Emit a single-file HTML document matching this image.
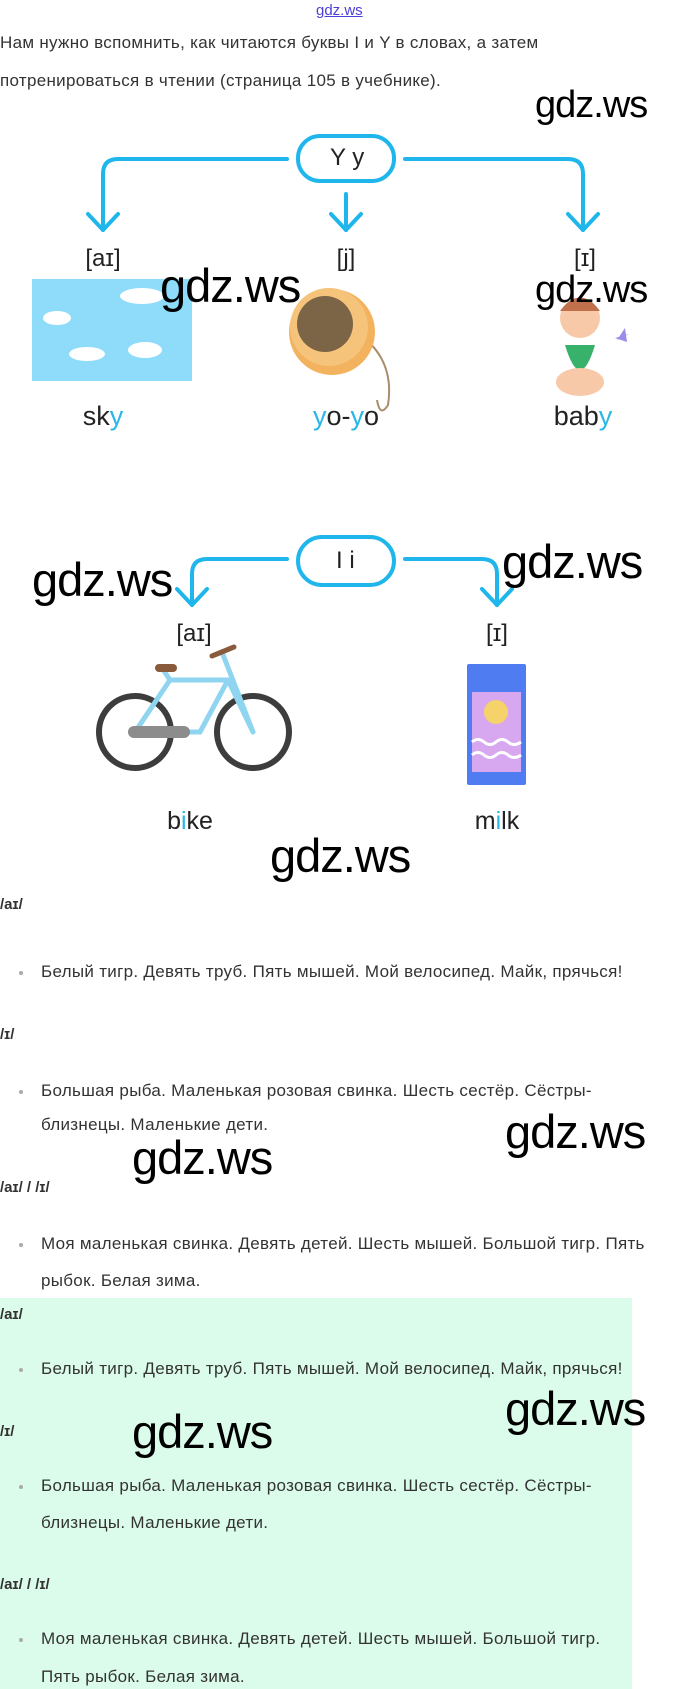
<!DOCTYPE html>
<html><head><meta charset="utf-8"><style>
body{margin:0;width:680px;height:1689px;position:relative;background:#fff;font-family:"Liberation Sans",sans-serif;overflow:hidden}
.a{position:absolute;white-space:nowrap}
.t{font-size:17px;color:#333;letter-spacing:0.3px}
.h{font-size:15px;font-weight:bold;color:#333}
.b{position:absolute;left:19px;width:4px;height:4px;background:#aaa;border-radius:50%}
.w{font-size:47px;color:#000;letter-spacing:-1px;line-height:50px}
.lbl{font-size:24px;color:#222;transform:translateX(-50%);line-height:28px}
.wd{font-size:27px;color:#222;transform:translateX(-50%);line-height:32px}
.c{color:#28b7e6}
</style></head><body>
<div class="a" style="left:316px;top:2px;font-size:15px;color:#4b3fd8;text-decoration:underline">gdz.ws</div>
<div class="a t" style="left:0;top:33px">Нам нужно вспомнить, как читаются буквы I и Y в словах, а затем</div>
<div class="a t" style="left:0;top:71px">потренироваться в чтении (страница 105 в учебнике).</div>

<svg class="a" style="left:0;top:0" width="680" height="900" viewBox="0 0 680 900">
<g fill="none" stroke="#1fb6ec" stroke-width="4" stroke-linecap="round" stroke-linejoin="round">
<rect x="298" y="136" width="96" height="45" rx="22"/>
<path d="M287 159 H118 Q103 159 103 174 V230"/><path d="M88 214 L103 230 L118 214"/>
<path d="M346 194 V230"/><path d="M331 214 L346 230 L361 214"/>
<path d="M405 159 H568 Q583 159 583 174 V230"/><path d="M568 214 L583 230 L598 214"/>
<rect x="298" y="537" width="96" height="48" rx="24"/>
<path d="M287 559 H207 Q192 559 192 574 V605"/><path d="M177 589 L192 605 L207 589"/>
<path d="M405 559 H482 Q497 559 497 574 V605"/><path d="M482 589 L497 605 L512 589"/>
</g>
<rect x="32" y="279" width="160" height="102" fill="#8fdcfa"/>
<g fill="#fff"><ellipse cx="142" cy="296" rx="22" ry="8"/><ellipse cx="57" cy="318" rx="14" ry="7"/><ellipse cx="87" cy="354" rx="18" ry="7"/><ellipse cx="145" cy="350" rx="17" ry="8"/></g>
<path d="M360 335 Q395 360 388 405 Q380 418 377 400" fill="none" stroke="#a88e6a" stroke-width="2"/>
<circle cx="332" cy="332" r="43" fill="#f2b25e"/><circle cx="329" cy="327" r="39" fill="#f6c37a"/>
<circle cx="325" cy="324" r="28" fill="#7c6446"/>
<circle cx="580" cy="318" r="20" fill="#f7c9a8"/><path d="M560 311 Q580 284 600 311" fill="#c0714b"/>
<path d="M565 345 Q580 395 595 345 Z" fill="#38b16a"/><ellipse cx="580" cy="382" rx="24" ry="14" fill="#f7c9a8"/>
<path d="M617 340 l8 -12 l2 14 l-12 -4 l14 -4 z" fill="#9b8ce8"/>
<g stroke="#3d3d3d" stroke-width="6" fill="none"><circle cx="135" cy="732" r="36"/><circle cx="253" cy="732" r="36"/></g>
<g stroke="#8fd5f0" stroke-width="5" fill="none" stroke-linecap="round"><path d="M135 732 L170 680 L228 680 L253 732 M135 732 L200 732 L228 680 M170 680 L162 668 M222 652 L253 732"/></g>
<rect x="128" y="726" width="62" height="12" rx="6" fill="#8c8c8c"/>
<rect x="155" y="664" width="22" height="8" rx="4" fill="#8a5a3c"/><path d="M212 656 L234 647" stroke="#8a5a3c" stroke-width="5" stroke-linecap="round"/>
<rect x="467" y="664" width="59" height="121" rx="2" fill="#4f7cf0"/><rect x="472" y="692" width="49" height="80" fill="#d7a8f0"/>
<circle cx="496" cy="712" r="12" fill="#f6d36a"/><path d="M472 742 q6 -5 12 0 t12 0 t12 0 t13 0 M472 755 q6 -5 12 0 t12 0 t12 0 t13 0" stroke="#fff" stroke-width="3" fill="none"/>
</svg>

<div class="a lbl" style="left:103px;top:245px">[aɪ]</div>
<div class="a lbl" style="left:346px;top:245px">[j]</div>
<div class="a lbl" style="left:585px;top:245px">[ɪ]</div>
<div class="a" style="left:330px;top:144px;font-size:24px;color:#222">Y y</div>
<div class="a" style="left:336px;top:547px;font-size:24px;color:#222">I i</div>
<div class="a wd" style="left:103px;top:400px">sk<span class="c">y</span></div>
<div class="a wd" style="left:346px;top:400px"><span class="c">y</span>o-<span class="c">y</span>o</div>
<div class="a wd" style="left:583px;top:400px">bab<span class="c">y</span></div>
<div class="a lbl" style="left:194px;top:620px">[aɪ]</div>
<div class="a lbl" style="left:497px;top:620px">[ɪ]</div>
<div class="a wd" style="left:190px;top:805px;font-size:25px">b<span class="c">i</span>ke</div>
<div class="a wd" style="left:497px;top:805px;font-size:25px">m<span class="c">i</span>lk</div>

<div class="a w" style="left:535px;top:80px;font-size:38px">gdz.ws</div>
<div class="a w" style="left:160px;top:261px">gdz.ws</div>
<div class="a w" style="left:535px;top:265px;font-size:38px">gdz.ws</div>
<div class="a w" style="left:32px;top:555px">gdz.ws</div>
<div class="a w" style="left:502px;top:537px">gdz.ws</div>
<div class="a w" style="left:270px;top:831px">gdz.ws</div>

<div class="a" style="left:0;top:1298px;width:632px;height:391px;background:#dcfceb"></div>

<div class="a h" style="left:0;top:896px">/aɪ/</div>
<div class="b" style="top:971px"></div><div class="a t" style="left:41px;top:962px">Белый тигр. Девять труб. Пять мышей. Мой велосипед. Майк, прячься!</div>
<div class="a h" style="left:0;top:1026px">/ɪ/</div>
<div class="b" style="top:1090px"></div><div class="a t" style="left:41px;top:1081px">Большая рыба. Маленькая розовая свинка. Шесть сестёр. Сёстры-</div>
<div class="a t" style="left:41px;top:1115px">близнецы. Маленькие дети.</div>
<div class="a h" style="left:0;top:1179px">/aɪ/ / /ɪ/</div>
<div class="b" style="top:1243px"></div><div class="a t" style="left:41px;top:1234px">Моя маленькая свинка. Девять детей. Шесть мышей. Большой тигр. Пять</div>
<div class="a t" style="left:41px;top:1271px">рыбок. Белая зима.</div>

<div class="a h" style="left:0;top:1306px">/aɪ/</div>
<div class="b" style="top:1368px"></div><div class="a t" style="left:41px;top:1359px">Белый тигр. Девять труб. Пять мышей. Мой велосипед. Майк, прячься!</div>
<div class="a h" style="left:0;top:1423px">/ɪ/</div>
<div class="b" style="top:1485px"></div><div class="a t" style="left:41px;top:1476px">Большая рыба. Маленькая розовая свинка. Шесть сестёр. Сёстры-</div>
<div class="a t" style="left:41px;top:1513px">близнецы. Маленькие дети.</div>
<div class="a h" style="left:0;top:1576px">/aɪ/ / /ɪ/</div>
<div class="b" style="top:1638px"></div><div class="a t" style="left:41px;top:1629px">Моя маленькая свинка. Девять детей. Шесть мышей. Большой тигр.</div>
<div class="a t" style="left:41px;top:1667px">Пять рыбок. Белая зима.</div>

<div class="a w" style="left:505px;top:1107px">gdz.ws</div>
<div class="a w" style="left:132px;top:1133px">gdz.ws</div>
<div class="a w" style="left:505px;top:1384px">gdz.ws</div>
<div class="a w" style="left:132px;top:1407px">gdz.ws</div>
</body></html>
